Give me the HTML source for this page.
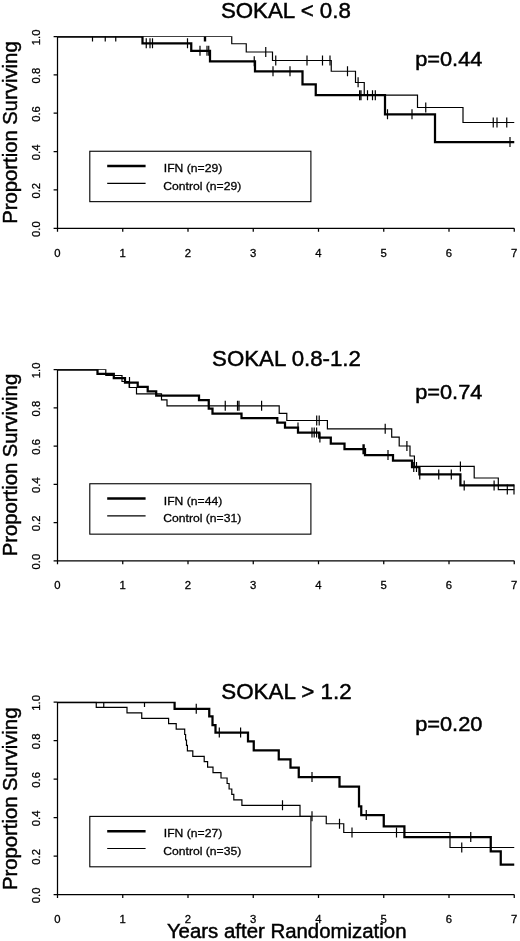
<!DOCTYPE html>
<html><head><meta charset="utf-8"><title>Survival by Sokal risk group</title>
<style>
html,body{margin:0;padding:0;background:#fff;}
body{width:520px;height:941px;overflow:hidden;}
svg{display:block;}
text{font-family:"Liberation Sans",sans-serif;fill:#000;stroke:#000;stroke-width:0.3;}
.ax{stroke:#000;stroke-width:1.25;fill:none;}
.ifn{stroke:#000;stroke-width:2.25;fill:none;stroke-linejoin:miter;stroke-linecap:butt;}
.ctl{stroke:#000;stroke-width:1.2;fill:none;stroke-linejoin:miter;}
.cen{stroke:#000;stroke-width:1.2;fill:none;}
.box{stroke:#000;stroke-width:1.1;fill:none;}
.tl{font-size:11.3px;}
.big{font-size:19.3px;stroke-width:0.45;}
.leg{font-size:11.6px;}
</style></head><body>
<svg width="520" height="941" viewBox="0 0 520 941">
<defs><filter id="soft" x="0" y="0" width="520" height="941" filterUnits="userSpaceOnUse"><feGaussianBlur stdDeviation="0.3"/></filter></defs>
<rect x="0" y="0" width="520" height="941" fill="#fff"/>
<g filter="url(#soft)">

<g>
<path class="ax" d="M57.5,36.5V228.25M57.5,228.25H514.25M57.50,228.25V231.85M122.75,228.25V231.85M188.00,228.25V231.85M253.25,228.25V231.85M318.50,228.25V231.85M383.75,228.25V231.85M449.00,228.25V231.85M514.25,228.25V231.85M53.60,228.25H57.5M53.60,189.90H57.5M53.60,151.55H57.5M53.60,113.20H57.5M53.60,74.85H57.5M53.60,36.50H57.5"/>
<text class="tl" x="57.50" y="256.85" text-anchor="middle">0</text>
<text class="tl" x="122.75" y="256.85" text-anchor="middle">1</text>
<text class="tl" x="188.00" y="256.85" text-anchor="middle">2</text>
<text class="tl" x="253.25" y="256.85" text-anchor="middle">3</text>
<text class="tl" x="318.50" y="256.85" text-anchor="middle">4</text>
<text class="tl" x="383.75" y="256.85" text-anchor="middle">5</text>
<text class="tl" x="449.00" y="256.85" text-anchor="middle">6</text>
<text class="tl" x="514.25" y="256.85" text-anchor="middle">7</text>
<text class="tl" transform="translate(39.9,229.05) rotate(-90)" text-anchor="middle">0.0</text>
<text class="tl" transform="translate(39.9,190.70) rotate(-90)" text-anchor="middle">0.2</text>
<text class="tl" transform="translate(39.9,152.35) rotate(-90)" text-anchor="middle">0.4</text>
<text class="tl" transform="translate(39.9,114.00) rotate(-90)" text-anchor="middle">0.6</text>
<text class="tl" transform="translate(39.9,75.65) rotate(-90)" text-anchor="middle">0.8</text>
<text class="tl" transform="translate(39.9,37.30) rotate(-90)" text-anchor="middle">1.0</text>
<text class="big" transform="translate(16.6,223.75) rotate(-90)" textLength="182.4" lengthAdjust="spacingAndGlyphs">Proportion Surviving</text>
<text class="big" style="font-size:21.2px" x="220.9" y="17.7" textLength="130.0" lengthAdjust="spacingAndGlyphs">SOKAL &lt; 0.8</text>
<text class="big" x="415.2" y="65.8" textLength="67.2" lengthAdjust="spacingAndGlyphs">p=0.44</text>
<clipPath id="cp0"><rect x="0" y="36.20" width="520" height="193.75"/></clipPath>
<g clip-path="url(#cp0)">
<path class="ctl" d="M57.50,36.50H231.75V43.75H246.25V52.00H272.50V60.50H331.25V71.25H355.50V82.50H364.25V95.20H417.50V107.50H463.00V122.50H514.25"/>
<path class="ifn" d="M57.50,36.50H142.50V43.25H191.25V50.75H210.00V61.25H255.00V71.25H302.50V84.25H315.75V95.20H385.00V114.25H435.00V142.00H514.25"/>
<path class="cen" d="M204.40,36.50V41.50M205.60,36.50V41.50M265.75,47.00V57.00M275.75,55.50V65.50M307.00,55.60V65.60M322.50,55.60V65.60M330.00,55.60V65.60M347.50,66.25V76.25M358.10,77.30V87.30M359.60,90.20V100.20M425.75,102.50V112.50M493.25,117.50V127.50M497.00,117.50V127.50M506.75,117.50V127.50M92.50,36.50V41.50M105.25,36.50V41.50M115.75,36.50V41.50M146.25,38.25V48.25M150.00,38.25V48.25M152.50,38.25V48.25M187.50,38.25V48.25M200.00,45.75V55.75M207.00,45.75V55.75M208.75,45.75V55.75M254.25,56.25V66.25M273.00,66.25V76.25M290.00,66.25V76.25M361.00,90.20V100.20M367.50,90.20V100.20M372.50,90.20V100.20M375.30,90.20V100.20M387.50,109.25V119.25M412.00,109.25V119.25M510.00,137.00V147.00"/>
</g>
<rect class="box" x="89.8" y="151.25" width="221.1" height="50.4"/>
<path class="ifn" style="stroke-width:2.6" d="M107.2,166.05H145.6"/>
<path class="ctl" d="M107.2,183.35H145.6"/>
<text class="leg" x="163.8" y="172.05" textLength="58.4" lengthAdjust="spacingAndGlyphs">IFN (n=29)</text>
<text class="leg" x="163.3" y="189.55" textLength="77.9" lengthAdjust="spacingAndGlyphs">Control (n=29)</text>
</g>
<g>
<path class="ax" d="M57.5,369.5V560.75M57.5,560.75H514.25M57.50,560.75V564.35M122.75,560.75V564.35M188.00,560.75V564.35M253.25,560.75V564.35M318.50,560.75V564.35M383.75,560.75V564.35M449.00,560.75V564.35M514.25,560.75V564.35M53.60,560.75H57.5M53.60,522.50H57.5M53.60,484.25H57.5M53.60,446.00H57.5M53.60,407.75H57.5M53.60,369.50H57.5"/>
<text class="tl" x="57.50" y="589.35" text-anchor="middle">0</text>
<text class="tl" x="122.75" y="589.35" text-anchor="middle">1</text>
<text class="tl" x="188.00" y="589.35" text-anchor="middle">2</text>
<text class="tl" x="253.25" y="589.35" text-anchor="middle">3</text>
<text class="tl" x="318.50" y="589.35" text-anchor="middle">4</text>
<text class="tl" x="383.75" y="589.35" text-anchor="middle">5</text>
<text class="tl" x="449.00" y="589.35" text-anchor="middle">6</text>
<text class="tl" x="514.25" y="589.35" text-anchor="middle">7</text>
<text class="tl" transform="translate(39.9,561.55) rotate(-90)" text-anchor="middle">0.0</text>
<text class="tl" transform="translate(39.9,523.30) rotate(-90)" text-anchor="middle">0.2</text>
<text class="tl" transform="translate(39.9,485.05) rotate(-90)" text-anchor="middle">0.4</text>
<text class="tl" transform="translate(39.9,446.80) rotate(-90)" text-anchor="middle">0.6</text>
<text class="tl" transform="translate(39.9,408.55) rotate(-90)" text-anchor="middle">0.8</text>
<text class="tl" transform="translate(39.9,370.30) rotate(-90)" text-anchor="middle">1.0</text>
<text class="big" transform="translate(16.6,556.25) rotate(-90)" textLength="182.4" lengthAdjust="spacingAndGlyphs">Proportion Surviving</text>
<text class="big" style="font-size:21.2px" x="212.1" y="365.9" textLength="148.8" lengthAdjust="spacingAndGlyphs">SOKAL 0.8-1.2</text>
<text class="big" x="415.2" y="399.3" textLength="67.2" lengthAdjust="spacingAndGlyphs">p=0.74</text>
<clipPath id="cp1"><rect x="0" y="369.20" width="520" height="193.25"/></clipPath>
<g clip-path="url(#cp1)">
<path class="ctl" d="M57.50,369.50H105.80V375.50H122.00V381.50H129.20V387.50H136.50V393.80H161.50V399.80H167.00V405.80H279.20V413.40H286.80V420.50H327.40V428.80H391.70V437.20H399.20V446.00H410.00V456.00H414.40V466.40H474.20V478.00H498.30V489.60H514.25"/>
<path class="ifn" d="M57.50,369.50H97.50V373.85H113.80V378.20H125.00V382.55H137.70V386.90H147.70V391.25H156.20V395.60H199.00V400.00H208.75V408.70H212.50V413.50H241.50V418.00H277.30V422.70H285.00V427.60H298.00V432.50H319.20V437.50H330.80V443.50H344.50V449.20H365.00V455.00H393.00V460.50H412.00V467.00H419.40V474.40H460.40V485.40H514.25"/>
<path class="cen" d="M225.25,400.80V410.80M237.50,400.80V410.80M239.00,400.80V410.80M261.60,400.80V410.80M316.70,415.50V425.50M319.20,415.50V425.50M385.20,423.80V433.80M406.90,441.00V451.00M460.40,461.40V471.40M507.30,484.60V494.60M514.00,484.60V494.60M129.50,377.00V387.00M298.00,422.60V432.60M312.00,427.50V437.50M314.20,427.50V437.50M316.60,427.50V437.50M319.90,432.50V442.50M363.00,444.20V454.20M364.20,444.20V454.20M388.00,450.00V460.00M413.75,462.00V472.00M416.50,462.00V472.00M419.75,469.40V479.40M438.75,469.40V479.40M451.30,469.40V479.40M464.20,480.40V490.40M494.10,480.40V490.40"/>
</g>
<rect class="box" x="89.8" y="483.75" width="221.1" height="50.4"/>
<path class="ifn" style="stroke-width:2.6" d="M107.2,498.55H145.6"/>
<path class="ctl" d="M107.2,515.85H145.6"/>
<text class="leg" x="163.8" y="504.55" textLength="58.4" lengthAdjust="spacingAndGlyphs">IFN (n=44)</text>
<text class="leg" x="163.3" y="522.05" textLength="77.9" lengthAdjust="spacingAndGlyphs">Control (n=31)</text>
</g>
<g>
<path class="ax" d="M57.5,702.0V894.5M57.5,894.5H514.25M57.50,894.5V898.10M122.75,894.5V898.10M188.00,894.5V898.10M253.25,894.5V898.10M318.50,894.5V898.10M383.75,894.5V898.10M449.00,894.5V898.10M514.25,894.5V898.10M53.60,894.50H57.5M53.60,856.00H57.5M53.60,817.50H57.5M53.60,779.00H57.5M53.60,740.50H57.5M53.60,702.00H57.5"/>
<text class="tl" x="57.50" y="923.10" text-anchor="middle">0</text>
<text class="tl" x="122.75" y="923.10" text-anchor="middle">1</text>
<text class="tl" x="188.00" y="923.10" text-anchor="middle">2</text>
<text class="tl" x="253.25" y="923.10" text-anchor="middle">3</text>
<text class="tl" x="318.50" y="923.10" text-anchor="middle">4</text>
<text class="tl" x="383.75" y="923.10" text-anchor="middle">5</text>
<text class="tl" x="449.00" y="923.10" text-anchor="middle">6</text>
<text class="tl" x="514.25" y="923.10" text-anchor="middle">7</text>
<text class="tl" transform="translate(39.9,895.30) rotate(-90)" text-anchor="middle">0.0</text>
<text class="tl" transform="translate(39.9,856.80) rotate(-90)" text-anchor="middle">0.2</text>
<text class="tl" transform="translate(39.9,818.30) rotate(-90)" text-anchor="middle">0.4</text>
<text class="tl" transform="translate(39.9,779.80) rotate(-90)" text-anchor="middle">0.6</text>
<text class="tl" transform="translate(39.9,741.30) rotate(-90)" text-anchor="middle">0.8</text>
<text class="tl" transform="translate(39.9,702.80) rotate(-90)" text-anchor="middle">1.0</text>
<text class="big" transform="translate(16.6,890.00) rotate(-90)" textLength="182.4" lengthAdjust="spacingAndGlyphs">Proportion Surviving</text>
<text class="big" style="font-size:21.2px" x="221.3" y="698.5" textLength="130.4" lengthAdjust="spacingAndGlyphs">SOKAL &gt; 1.2</text>
<text class="big" x="415.2" y="730.6" textLength="67.2" lengthAdjust="spacingAndGlyphs">p=0.20</text>
<clipPath id="cp2"><rect x="0" y="701.70" width="520" height="194.50"/></clipPath>
<g clip-path="url(#cp2)">
<path class="ctl" d="M57.50,702.00H96.25V707.40H127.00V712.90H141.75V718.30H168.60V723.70H176.20V729.10H184.70V734.50H185.60V740.00H186.50V745.40H187.40V750.80H192.80V756.30H204.20V761.70H207.60V767.20H213.00V772.60H221.00V778.00H227.10V783.50H229.10V789.00H231.80V794.40H233.80V799.90H241.90V805.30H300.00V816.25H326.25V823.75H343.75V832.50H450.00V847.50H514.25"/>
<path class="ifn" d="M57.50,702.00H174.60V708.75H209.25V716.25H212.50V725.00H215.50V732.50H248.00V741.25H253.75V750.25H278.75V759.25H290.50V767.50H298.75V777.00H339.50V786.50H359.00V806.25H361.25V815.00H383.75V826.25H404.40V837.00H490.75V851.25H500.75V864.50H514.25"/>
<path class="cen" d="M282.50,800.30V810.30M312.00,811.25V821.25M339.50,818.75V828.75M352.00,827.50V837.50M396.50,827.50V837.50M461.75,842.50V852.50M103.75,702.00V707.00M144.50,702.00V707.00M196.25,703.75V713.75M219.30,727.50V737.50M240.60,727.50V737.50M312.00,772.00V782.00M366.25,810.00V820.00M470.75,832.00V842.00"/>
</g>
<rect class="box" x="89.8" y="816.4" width="221.1" height="50.4"/>
<path class="ifn" style="stroke-width:2.6" d="M107.2,831.20H145.6"/>
<path class="ctl" d="M107.2,848.50H145.6"/>
<text class="leg" x="163.8" y="837.20" textLength="58.4" lengthAdjust="spacingAndGlyphs">IFN (n=27)</text>
<text class="leg" x="163.3" y="854.70" textLength="77.9" lengthAdjust="spacingAndGlyphs">Control (n=35)</text>
</g>
<text class="big" x="166.9" y="938.2" textLength="239.6" lengthAdjust="spacingAndGlyphs">Years after Randomization</text>
</g></svg></body></html>
